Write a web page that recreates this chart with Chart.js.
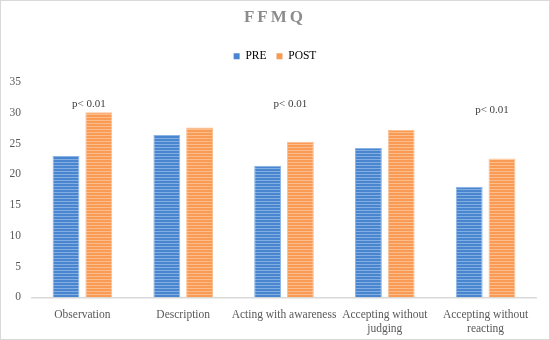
<!DOCTYPE html>
<html>
<head>
<meta charset="utf-8">
<script src="https://cdn.jsdelivr.net/npm/chart.js@4"></script>
<style>
  html, body { margin: 0; padding: 0; background: #fff; }
  #wrap { width: 548px; height: 338px; border: 1px solid #d9d9d9; }
</style>
</head>
<body>
<div id="wrap"><canvas id="ffmqChart" width="548" height="338"></canvas></div>
<script>
const categories = ['Observation', 'Description', 'Acting with awareness', ['Accepting without', 'judging'], ['Accepting without', 'reacting']];
const preValues = [23, 26.4, 21.4, 24.3, 18];
const postValues = [30.1, 27.6, 25.3, 27.2, 22.6];
const pLabels = ['p< 0.01', '', 'p< 0.01', '', 'p< 0.01'];
const pLabelAt = [30.6, null, 30.5, null, 29.6];

function stripes(base, light) {
    const c = document.createElement('canvas');
    c.width = 4; c.height = 3;
    const g = c.getContext('2d');
    g.fillStyle = base;
    g.fillRect(0, 0, 4, 3);
    g.fillStyle = light;
    g.fillRect(0, 2, 4, 1);
    return g.createPattern(c, 'repeat');
}

const serif = "'Liberation Serif', 'DejaVu Serif', serif";

const titlePlugin = {
    id: 'spacedTitle',
    afterDraw(chart) {
        const ctx = chart.ctx;
        ctx.save();
        ctx.font = 'bold 17px ' + serif;
        ctx.fillStyle = '#8c8c8c';
        ctx.textAlign = 'center';
        ctx.textBaseline = 'middle';
        ctx.letterSpacing = '3px';
        ctx.fillText('FFMQ', chart.width / 2, 17);
        ctx.restore();
    }
};

const pValuePlugin = {
    id: 'pValues',
    afterDatasetsDraw(chart) {
        const ctx = chart.ctx;
        const meta = chart.getDatasetMeta(1);
        const y = chart.scales.y;
        ctx.save();
        ctx.font = '11px ' + serif;
        ctx.fillStyle = '#404040';
        ctx.textAlign = 'center';
        ctx.textBaseline = 'bottom';
        pLabels.forEach((txt, i) => {
            if (!txt) return;
            ctx.fillText(txt, meta.data[i].x - 10, y.getPixelForValue(pLabelAt[i]));
        });
        ctx.restore();
    }
};

const ctx = document.getElementById('ffmqChart').getContext('2d');

new Chart(ctx, {
    type: 'bar',
    data: {
        labels: categories,
        datasets: [{
            label: 'PRE',
            data: preValues,
            backgroundColor: stripes('#4a86cf', '#82aee2'),
            borderColor: '#8cb4e4',
            borderWidth: 1,
            categoryPercentage: 0.65,
            barPercentage: 0.82
        }, {
            label: 'POST',
            data: postValues,
            backgroundColor: stripes('#f99a55', '#fbbd8c'),
            borderColor: '#fbbf90',
            borderWidth: 1,
            categoryPercentage: 0.65,
            barPercentage: 0.82
        }]
    },
    options: {
        responsive: false,
        animation: false,
        layout: { padding: { top: 8, left: 0, right: 0, bottom: 0 } },
        plugins: {
            title: {
                display: true,
                text: '',
                padding: { top: 10, bottom: 7 }
            },
            subtitle: {
                display: true,
                text: '',
                weight: 500,
                font: { size: 1 },
                padding: { top: 0, bottom: 9 }
            },
            legend: {
                labels: {
                    boxWidth: 6,
                    boxHeight: 6,
                    padding: 10,
                    color: '#595959',
                    font: { family: serif, size: 11.5 },
                    generateLabels(chart) {
                        return chart.data.datasets.map((ds, i) => ({
                            text: ds.label,
                            fillStyle: i === 0 ? '#4a86cf' : '#f99a55',
                            strokeStyle: i === 0 ? '#4a86cf' : '#f99a55',
                            lineWidth: 0,
                            datasetIndex: i
                        }));
                    }
                }
            },
            tooltip: { enabled: false }
        },
        scales: {
            x: {
                grid: { display: false },
                border: { color: '#d9d9d9', width: 1.5 },
                afterFit(scale) {
                    scale.paddingLeft = 0;
                    scale.paddingRight = 0;
                },
                ticks: {
                    color: '#595959',
                    font: { family: serif, size: 11.5 },
                    maxRotation: 0,
                    autoSkip: false,
                    padding: 3
                }
            },
            y: {
                min: 0,
                max: 35,
                grid: { display: false },
                border: { display: false },
                afterFit(scale) {
                    scale.width = 31;
                },
                ticks: {
                    stepSize: 5,
                    color: '#595959',
                    font: { family: serif, size: 11.5 },
                    padding: 3
                }
            },
            yRight: {
                position: 'right',
                grid: { display: false },
                border: { display: false },
                ticks: { display: false },
                afterFit(scale) {
                    scale.width = 13;
                }
            }
        }
    },
    plugins: [titlePlugin, pValuePlugin]
});
</script>
</body>
</html>
